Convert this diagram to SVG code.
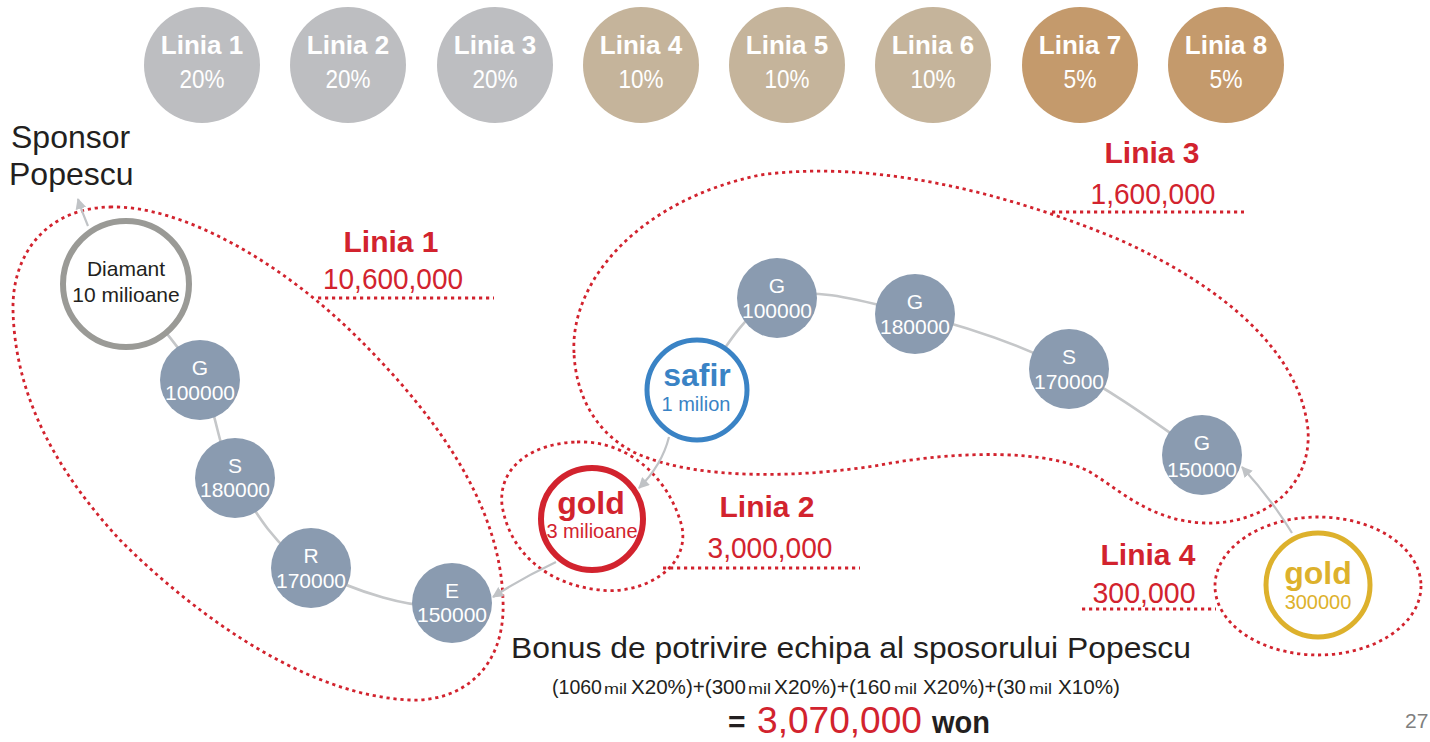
<svg xmlns="http://www.w3.org/2000/svg" width="1430" height="742" viewBox="0 0 1430 742">
<defs>
<style>
text{font-family:"Liberation Sans",Arial,sans-serif}
.top{fill:#fff;text-anchor:middle}
.tb{font-size:26px;font-weight:bold}
.tp{font-size:25px}
.g{fill:#BDBEC1}.t{fill:#C5B49B}.b{fill:#C49A6C}
.node circle{fill:#8A9BB0}
.node text{fill:#fff;font-size:21px;text-anchor:middle}
.loop{fill:none;stroke:#D2232E;stroke-width:2.8;stroke-dasharray:3.2 3.8}
.conn{fill:none;stroke:#C5C7C9;stroke-width:2.6}
.arr{fill:none;stroke:#C0C3C6;stroke-width:2.2}
.lbl{fill:#D2232E;text-anchor:middle}
.lt{font-size:30px;font-weight:bold}
.ln{font-size:30px}
.dark{fill:#231F20}
.f{font-size:20.5px}
.m{font-size:15px}
</style>
<marker id="ah" viewBox="0 0 10 10" refX="9" refY="5" markerWidth="11" markerHeight="11" markerUnits="userSpaceOnUse" orient="auto">
<path d="M0 0 L10 5 L0 10 Z" fill="#C0C3C6"/>
</marker>
</defs>
<rect width="1430" height="742" fill="#fff"/>

<g id="levels">
<g id="lvl1"><circle class="g" cx="202" cy="65" r="58"/><text class="top tb" x="202" y="54">Linia 1</text><text class="top tp" x="202" y="88" textLength="45" lengthAdjust="spacingAndGlyphs">20%</text></g>
<g id="lvl2"><circle class="g" cx="348" cy="65" r="58"/><text class="top tb" x="348" y="54">Linia 2</text><text class="top tp" x="348" y="88" textLength="45" lengthAdjust="spacingAndGlyphs">20%</text></g>
<g id="lvl3"><circle class="g" cx="495" cy="65" r="58"/><text class="top tb" x="495" y="54">Linia 3</text><text class="top tp" x="495" y="88" textLength="45" lengthAdjust="spacingAndGlyphs">20%</text></g>
<g id="lvl4"><circle class="t" cx="641" cy="65" r="58"/><text class="top tb" x="641" y="54">Linia 4</text><text class="top tp" x="641" y="88" textLength="45" lengthAdjust="spacingAndGlyphs">10%</text></g>
<g id="lvl5"><circle class="t" cx="787" cy="65" r="58"/><text class="top tb" x="787" y="54">Linia 5</text><text class="top tp" x="787" y="88" textLength="45" lengthAdjust="spacingAndGlyphs">10%</text></g>
<g id="lvl6"><circle class="t" cx="933" cy="65" r="58"/><text class="top tb" x="933" y="54">Linia 6</text><text class="top tp" x="933" y="88" textLength="45" lengthAdjust="spacingAndGlyphs">10%</text></g>
<g id="lvl7"><circle class="b" cx="1080" cy="65" r="58"/><text class="top tb" x="1080" y="54">Linia 7</text><text class="top tp" x="1080" y="88" textLength="33" lengthAdjust="spacingAndGlyphs">5%</text></g>
<g id="lvl8"><circle class="b" cx="1226" cy="65" r="58"/><text class="top tb" x="1226" y="54">Linia 8</text><text class="top tp" x="1226" y="88" textLength="33" lengthAdjust="spacingAndGlyphs">5%</text></g>
</g>

<g id="loops">
<path class="loop" d="M110 207 C180 205 280 260 360 340 C430 410 500 500 503 600 C506 670 460 702 410 700 C310 696 200 620 120 540 C60 475 15 400 13 310 C12 250 50 208 110 207 Z"/>
<path class="loop" d="M577 442 C630 440 670 480 682 527 C690 570 640 595 600 590 C550 585 510 555 502 505 C498 465 535 443 577 442 Z"/>
<path class="loop" d="M574 353 C570 280 640 200 760 175 C870 160 1000 190 1120 240 C1220 285 1300 350 1308 430 C1312 490 1260 525 1205 523 C1150 521 1120 490 1090 472 C1050 450 960 450 880 465 C800 478 700 480 640 455 C600 438 576 400 574 353 Z"/>
<ellipse class="loop" cx="1318" cy="586" rx="103" ry="69"/>
<path class="loop" d="M318 298 H494 M663 568 H860 M1052 212 H1244 M1082 609 H1216"/>
</g>

<g id="connectors">
<path class="conn" d="M126 284 C138.3 300 181.8 347.7 200 380 C218.2 412.3 216.5 446.7 235 478 C253.5 509.3 274.8 547.2 311 568 C347.2 588.8 420 614 452 603"/>
<path class="conn" d="M697 390 C710.3 374.7 740.7 310.7 777 298 C813.3 285.3 866.3 302.2 915 314 C963.7 325.8 1021.2 345.5 1069 369 C1116.8 392.5 1179.8 440.7 1202 455"/>
<path class="arr" marker-end="url(#ah)" d="M88 226 Q82 212 78 199"/>
<path class="arr" marker-end="url(#ah)" d="M669 437 Q662 465 639 488"/>
<path class="arr" marker-end="url(#ah)" d="M556 562 Q522 578 493 597"/>
<path class="arr" marker-end="url(#ah)" d="M1292 533 Q1272 500 1242 467"/>
</g>

<g id="sponsor"><text class="dark" x="11" y="148" font-size="32">Sponsor</text><text class="dark" x="9" y="185" font-size="32">Popescu</text></g>

<g id="diamant"><circle cx="126" cy="284" r="63" fill="#fff" stroke="#9A9A96" stroke-width="6"/><text class="dark" x="126" y="276" font-size="21" text-anchor="middle">Diamant</text><text class="dark" x="126" y="302" font-size="21" text-anchor="middle">10 milioane</text></g>

<g id="n-g1" class="node"><circle cx="200" cy="380" r="40"/><text x="200" y="375">G</text><text x="200" y="400">100000</text></g>
<g id="n-s1" class="node"><circle cx="235" cy="478" r="40"/><text x="235" y="473">S</text><text x="235" y="497">180000</text></g>
<g id="n-r1" class="node"><circle cx="311" cy="568" r="40"/><text x="311" y="563">R</text><text x="311" y="588">170000</text></g>
<g id="n-e1" class="node"><circle cx="452" cy="603" r="40"/><text x="452" y="598">E</text><text x="452" y="622">150000</text></g>

<g id="n-g2" class="node"><circle cx="777" cy="298" r="40"/><text x="777" y="293">G</text><text x="777" y="318">100000</text></g>
<g id="n-g3" class="node"><circle cx="915" cy="314" r="40"/><text x="915" y="309">G</text><text x="915" y="334">180000</text></g>
<g id="n-s2" class="node"><circle cx="1069" cy="369" r="40"/><text x="1069" y="364">S</text><text x="1069" y="389">170000</text></g>
<g id="n-g4" class="node"><circle cx="1202" cy="455" r="40"/><text x="1202" y="450">G</text><text x="1202" y="477">150000</text></g>

<g id="safir"><circle cx="697" cy="390" r="50" fill="#fff" stroke="#3A83C5" stroke-width="5"/><text x="697" y="386" font-size="32" font-weight="bold" fill="#3A83C5" text-anchor="middle">safir</text><text x="696" y="411" font-size="20" fill="#3A83C5" text-anchor="middle">1 milion</text></g>

<g id="gold-red"><circle cx="592" cy="519" r="51" fill="#fff" stroke="#D2232E" stroke-width="6"/><text x="591" y="514" font-size="32" font-weight="bold" fill="#D2232E" text-anchor="middle">gold</text><text x="592" y="538" font-size="20" fill="#D2232E" text-anchor="middle">3 milioane</text></g>

<g id="gold-yellow"><circle cx="1318" cy="585" r="52" fill="#fff" stroke="#DDB12C" stroke-width="5"/><text x="1318" y="584" font-size="32" font-weight="bold" fill="#DDB12C" text-anchor="middle">gold</text><text x="1318" y="609" font-size="20" fill="#DDB12C" text-anchor="middle">300000</text></g>

<g id="labels">
<text class="lbl lt" x="391" y="252">Linia 1</text><text class="lbl ln" x="393" y="289" textLength="140" lengthAdjust="spacingAndGlyphs">10,600,000</text>
<text class="lbl lt" x="767" y="517">Linia 2</text><text class="lbl ln" x="770" y="558" textLength="125" lengthAdjust="spacingAndGlyphs">3,000,000</text>
<text class="lbl lt" x="1152" y="163">Linia 3</text><text class="lbl ln" x="1153" y="204" textLength="125" lengthAdjust="spacingAndGlyphs">1,600,000</text>
<text class="lbl lt" x="1148" y="565">Linia 4</text><text class="lbl ln" x="1144" y="603" textLength="103" lengthAdjust="spacingAndGlyphs">300,000</text>
</g>

<g id="summary">
<text class="dark" x="851" y="658" font-size="30" text-anchor="middle" textLength="680" lengthAdjust="spacingAndGlyphs">Bonus de potrivire echipa al sposorului Popescu</text>
<text class="dark f" x="552" y="694" textLength="50" lengthAdjust="spacingAndGlyphs">(1060</text>
<text class="dark m" x="604" y="694" textLength="23" lengthAdjust="spacingAndGlyphs">mil</text>
<text class="dark f" x="631" y="694" textLength="115" lengthAdjust="spacingAndGlyphs">X20%)+(300</text>
<text class="dark m" x="748" y="694" textLength="23" lengthAdjust="spacingAndGlyphs">mil</text>
<text class="dark f" x="774" y="694" textLength="117" lengthAdjust="spacingAndGlyphs">X20%)+(160</text>
<text class="dark m" x="894" y="694" textLength="23" lengthAdjust="spacingAndGlyphs">mil</text>
<text class="dark f" x="923" y="694" textLength="103" lengthAdjust="spacingAndGlyphs">X20%)+(30</text>
<text class="dark m" x="1029" y="694" textLength="23" lengthAdjust="spacingAndGlyphs">mil</text>
<text class="dark f" x="1058" y="694" textLength="62" lengthAdjust="spacingAndGlyphs">X10%)</text>
<text class="dark" x="728" y="732" font-size="30" font-weight="bold">=</text>
<text x="757" y="733" font-size="37" fill="#D2232E" textLength="165" lengthAdjust="spacingAndGlyphs">3,070,000</text>
<text class="dark" x="932" y="733" font-size="32" font-weight="bold" textLength="58" lengthAdjust="spacingAndGlyphs">won</text>
<text x="1405" y="728" font-size="21" fill="#7F7F7F">27</text>
</g>
</svg>
